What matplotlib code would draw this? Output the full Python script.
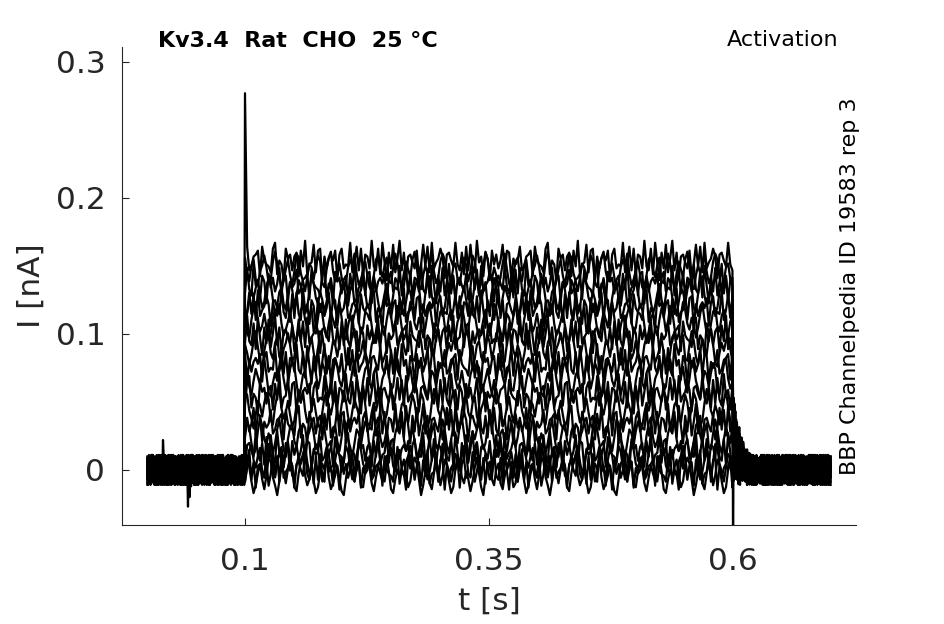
import numpy as np
import matplotlib
matplotlib.use("Agg")
import matplotlib.pyplot as plt

# steady-state current of each sweep during the 0.1-0.6 s step (nA)
levels = [-0.004, 0.0, 0.006, 0.014, 0.024, 0.034, 0.045, 0.056, 0.067,
          0.078, 0.089, 0.099, 0.109, 0.119, 0.128, 0.137, 0.146, 0.154]

# recording noise shape (relative units)
noise = [0.3, 0.8, 0.2, -0.6, -0.4, 0.5, 1.0, 0.4, -0.3, -0.9, -0.5, 0.1,
         0.6, -0.2, -0.7, 0.0, 0.9, 0.7, -0.1, -0.5, -1.0, -0.3, 0.4, 0.2,
         -0.4, 0.3, 0.8, 0.5, -0.6, -0.8, 0.1, 0.7, 1.0, 0.0, -0.5, -0.2,
         0.4, -0.3, -0.9, -0.6, 0.2, 0.6, 0.3, 0.9, -0.1, -0.7, -0.4, 0.0,
         0.5, -0.2, -0.8, -1.0, -0.2, 0.6, 0.8, 0.1, -0.3, 0.3, 0.7, -0.5,
         -0.6, 0.2, 0.9, 0.4, -0.4, -0.8, -0.1, 0.5, 0.1, -0.3, 0.6, 1.0,
         0.2, -0.7, -0.9, -0.2, 0.3, -0.1, 0.4, 0.8, 0.0, -0.6, -0.3, 0.5,
         0.9, 0.6, -0.2, -1.0, -0.5, 0.2, 0.4, -0.4, -0.7, 0.1, 0.7, 0.3,
         -0.5, 0.0, 0.8, 0.5, -0.3, -0.9, -0.6, 0.3, 1.0, 0.6, -0.1, -0.4,
         0.2, -0.2, -0.8, -0.3, 0.4, 0.9, 0.1, -0.6, -1.0, -0.1, 0.5, 0.7,
         -0.2, -0.5, 0.3, 0.6, -0.4, -0.7, 0.0]

# tail current after the step, fraction of the steady level (1 ms steps)
tail = [0.34, 0.31, 0.28, 0.25, 0.22, 0.20, 0.18, 0.16, 0.14, 0.125, 0.11,
        0.097, 0.085, 0.074, 0.064, 0.055, 0.046, 0.038, 0.03, 0.023, 0.016,
        0.01, 0.006, 0.003]

# isolated artefacts (time s, current nA) on the largest sweep
pre_events = [(0.016, 0.022), (0.042, -0.027), (0.043, -0.02), (0.045, -0.012)]
onset_spike = 0.277
offset_dip = -0.057

x_ticks = [0.1, 0.35, 0.6]
x_ticklabels = ['0.1', '0.35', '0.6']
y_ticks = [0, 0.1, 0.2, 0.3]
y_ticklabels = ['0', '0.1', '0.2', '0.3']

noise = np.array(noise)
n_noise = len(noise)
t_pre = np.arange(0, 0.1, 0.0008)
t_step = np.arange(0.1, 0.6, 0.0022)
t_post = np.arange(0.6, 0.7001, 0.0008)


def noise_run(n, start, stride):
    return noise[(np.arange(n) * stride + start) % n_noise]


fig = plt.figure(figsize=(9.45, 6.24), dpi=100)
ax = fig.add_axes([122 / 945, 1 - 525 / 624, 734 / 945, 478 / 624])

dark = '#262626'
for k, lev in enumerate(levels):
    pre = noise_run(len(t_pre), 17 * k, 1 + k % 3) * 0.011
    step = lev + noise_run(len(t_step), 23 * k + 5, 1 + (k % 2)) * 0.0145
    post = noise_run(len(t_post), 31 * k + 2, 1 + k % 3) * 0.011
    post[:len(tail)] += lev * np.array(tail)
    if k == len(levels) - 1:
        for te, ve in pre_events:
            pre[np.argmin(abs(t_pre - te))] = ve
        step[0] = onset_spike
        post[0] = offset_dip
    t = np.concatenate([t_pre, t_step, t_post])
    y = np.concatenate([pre, step, post])
    ax.plot(t, y, color='black', lw=1.6)

ax.set_xlim(-0.026, 0.726)
ax.set_ylim(-0.0405, 0.311)
ax.set_xticks(x_ticks)
ax.set_xticklabels(x_ticklabels)
ax.set_yticks(y_ticks)
ax.set_yticklabels(y_ticklabels)
ax.tick_params(direction='in', length=5, width=0.8,
               labelsize=22.5, colors=dark)
ax.tick_params(axis='x', pad=16)
ax.tick_params(axis='y', pad=12)
for side in ['top', 'right']:
    ax.spines[side].set_visible(False)
for side in ['left', 'bottom']:
    ax.spines[side].set_color(dark)
    ax.spines[side].set_linewidth(0.8)

ax.set_xlabel('t [s]', fontsize=22.5, color=dark)
ax.set_ylabel('I [nA]', fontsize=22.5, color=dark)
ax.xaxis.set_label_coords(0.5, -0.13)
ax.yaxis.set_label_coords(-0.104, 0.5)

fig.text(158 / 945, 1 - 47 / 624, 'Kv3.4  Rat  CHO  25 °C', fontsize=16,
         fontweight='bold', ha='left', va='baseline')
fig.text(838 / 945, 1 - 45.5 / 624, 'Activation', fontsize=16,
         ha='right', va='baseline')
fig.text(850 / 945, 1 - 475 / 624, 'BBP Channelpedia ID 19583 rep 3',
         fontsize=16, rotation=90, ha='center', va='bottom')

fig.savefig('out.png', dpi=100)
